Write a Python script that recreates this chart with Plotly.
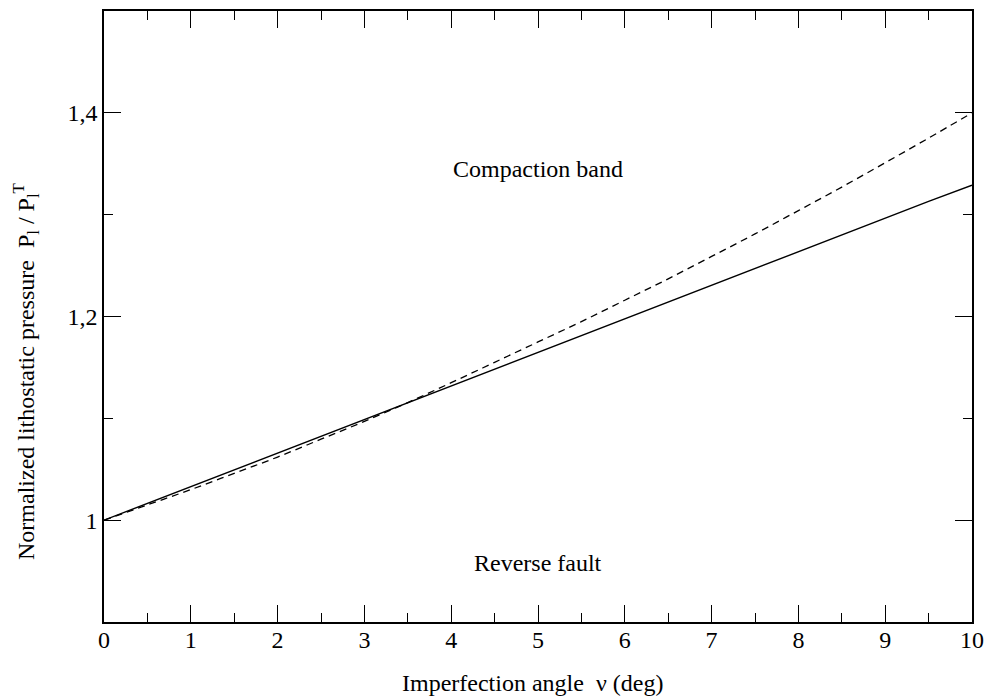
import plotly.graph_objects as go

# Data
angle = [0, 0.5, 1, 1.5, 2, 2.5, 3, 3.5, 4, 4.5, 5, 5.5, 6, 6.5, 7, 7.5, 8, 8.5, 9, 9.5, 10]
solid_p = [1.000, 1.0165, 1.033, 1.0495, 1.066, 1.0825, 1.099, 1.1155, 1.132, 1.1485, 1.165,
           1.1815, 1.198, 1.2145, 1.231, 1.2475, 1.264, 1.2805, 1.297, 1.313, 1.329]
dashed_p = [1.000, 1.0150, 1.030, 1.0460, 1.062, 1.0795, 1.097, 1.1155, 1.135, 1.1550, 1.175,
            1.1950, 1.216, 1.2370, 1.259, 1.2811, 1.304, 1.3271, 1.351, 1.3752, 1.400]

x_ticks = [0, 1, 2, 3, 4, 5, 6, 7, 8, 9, 10]
x_minor = [0.5, 1.5, 2.5, 3.5, 4.5, 5.5, 6.5, 7.5, 8.5, 9.5]
y_ticks = [1.0, 1.2, 1.4]
y_ticktext = ["1", "1,2", "1,4"]
y_minor = [1.1, 1.3]

FONT = "Liberation Serif, Times New Roman, serif"
FS = 24

ML, MR, MT, MB = 104, 14, 11, 76
W, H = 986, 698

fig = go.Figure()
fig.add_trace(go.Scatter(x=angle, y=solid_p, mode="lines",
                         line=dict(color="black", width=1.4), hoverinfo="skip"))
fig.add_trace(go.Scatter(x=angle, y=dashed_p, mode="lines", line_shape="spline",
                         line=dict(color="black", width=1.3, dash="7px,5px"), hoverinfo="skip"))

axis_common = dict(showline=True, linecolor="black", linewidth=1.5, mirror="ticks",
                   ticks="inside", ticklen=17, tickwidth=1.3, tickcolor="black",
                   showgrid=False, zeroline=False,
                   tickfont=dict(family=FONT, size=FS, color="black"))

fig.update_layout(
    width=W, height=H,
    margin=dict(l=ML, r=MR, t=MT, b=MB, autoexpand=False),
    paper_bgcolor="white", plot_bgcolor="white",
    showlegend=False,
    xaxis=dict(range=[0, 10], tickvals=x_ticks, ticktext=[str(v) for v in x_ticks],
               ticklabelstandoff=-5,
               minor=dict(tickvals=x_minor, ticks="inside", ticklen=9, tickwidth=1.3,
                          tickcolor="black", showgrid=False),
               **axis_common),
    yaxis=dict(range=[0.9, 1.5], tickvals=y_ticks, ticktext=y_ticktext,
               minor=dict(tickvals=y_minor, ticks="inside", ticklen=9, tickwidth=1.3,
                          tickcolor="black", showgrid=False),
               **axis_common),
    font=dict(family=FONT, size=FS, color="black"),
)

fig.add_annotation(x=5, y=1.345, xref="x", yref="y", text="Compaction band",
                   xanchor="center", yanchor="middle",
                   showarrow=False, font=dict(family=FONT, size=FS, color="black"))
fig.add_annotation(x=5, y=0.958, xref="x", yref="y", text="Reverse fault",
                   xanchor="center", yanchor="middle",
                   showarrow=False, font=dict(family=FONT, size=FS, color="black"))

plot_w = W - ML - MR
plot_h = H - MT - MB
def px_to_paper(px, py):
    return (px - ML) / plot_w, ((H - py) - MB) / plot_h

tx, ty = px_to_paper(532, 683)
fig.add_annotation(x=tx, y=ty, xref="paper", yref="paper",
                   text="Imperfection angle  \u03bd (deg)", showarrow=False,
                   xanchor="center", yanchor="middle",
                   font=dict(family=FONT, size=FS, color="black"))
yx, yy = px_to_paper(26, 372)
fig.add_annotation(x=yx, y=yy, xref="paper", yref="paper",
                   text="Normalized lithostatic pressure  P<sub>l</sub> / P<sub>l</sub><sup>T</sup>",
                   textangle=-90, showarrow=False,
                   xanchor="center", yanchor="middle",
                   font=dict(family=FONT, size=FS, color="black"))

fig.write_html("out.html", config={"displayModeBar": False},
               post_script="document.body.style.margin='0';document.body.style.overflow='hidden';")
